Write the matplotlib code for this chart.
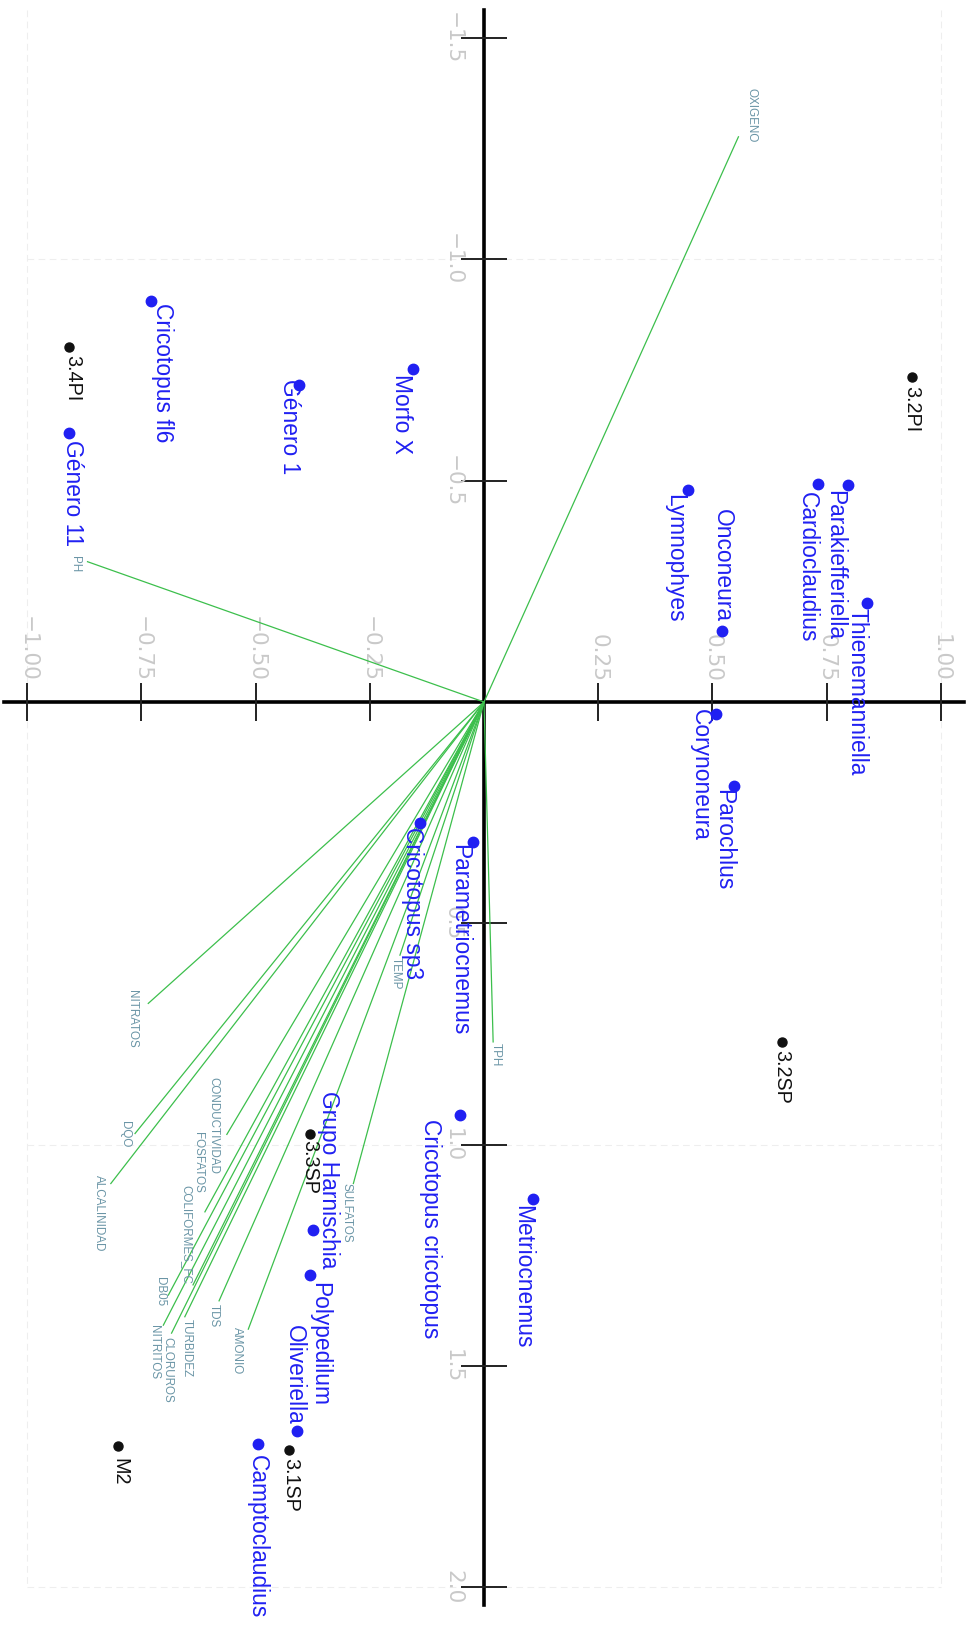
import matplotlib
matplotlib.use('Agg')
import matplotlib.pyplot as plt
from matplotlib import font_manager
from matplotlib.font_manager import FontProperties

# ─── Data: CCA scores (axis 1 runs down the page, axis 2 runs across) ───

species = ["Cricotopus fl6", "Género 11", "Género 1", "Morfo X",
           "Parakiefferiella", "Cardioclaudius", "Lymnophyes", "Onconeura",
           "Thienemanniella", "Corynoneura", "Parochlus", "Cricotopus sp3",
           "Parametriocnemus", "Cricotopus cricotopus", "Grupo Harnischia",
           "Polypedilum", "Oliveriella", "Camptoclaudius", "Metriocnemus"]
species_ax2 = [-0.728, -0.908, -0.405, -0.155, 0.796, 0.732, 0.447, 0.522,
               0.838, 0.508, 0.548, -0.140, -0.023, -0.053, -0.374, -0.381,
               -0.410, -0.494, 0.108]
species_ax1 = [-0.907, -0.607, -0.716, -0.752, -0.490, -0.492, -0.479, -0.160,
               -0.224, 0.026, 0.189, 0.274, 0.316, 0.933, 1.193, 1.295,
               1.646, 1.677, 1.123]

sites = ["3.4PI", "3.2PI", "3.3SP", "3.2SP", "3.1SP", "M2"]
sites_ax2 = [-0.908, 0.936, -0.381, 0.652, -0.428, -0.801]
sites_ax1 = [-0.801, -0.735, 0.975, 0.769, 1.689, 1.680]

env = ["OXIGENO", "PH", "TPH", "NITRATOS", "DQO", "ALCALINIDAD",
       "CONDUCTIVIDAD", "FOSFATOS", "COLIFORMES_FC", "DB05", "TURBIDEZ",
       "CLORUROS", "NITRITOS", "TDS", "AMONIO", "SULFATOS", "TEMP"]
env_ax2 = [0.557, -0.868, 0.020, -0.735, -0.764, -0.817, -0.563, -0.611,
           -0.637, -0.691, -0.655, -0.684, -0.702, -0.580, -0.516, -0.286,
           -0.184]
env_ax1 = [-1.277, -0.317, 0.768, 0.681, 0.975, 1.088, 0.977, 1.152,
           1.317, 1.340, 1.389, 1.426, 1.408, 1.353, 1.417, 1.088, 0.572]

ticks_ax2 = [-1.00, -0.75, -0.50, -0.25, 0.25, 0.50, 0.75, 1.00]
ticks_ax1 = [-1.5, -1.0, -0.5, 0.5, 1.0, 1.5, 2.0]

# ─── Label placement (pixel offsets from each mark, +y = down the page) ───
species_off = [(11, 72), (3, 60), (-10, 42), (-12, 45), (-13, 80), (-11, 83),
               (-14, 68), (0, -66), (-10, 89), (-16, 61), (-11, 54), (-8, 80),
               (-14, 98), (-29, 114), (15, -50), (10, 69), (-2, -56), (-1, 92),
               (-11, 78)]
sites_off = [(3, 31), (0, 32), (0, 33), (0, 35), (2, 35), (2, 26)]
env_off = [(13, -22), (-13, 2), (3, 13), (-16, 15), (-10, 1), (-12, 30),
           (-13, -9), (-7, -49), (-7, -50), (-8, -4), (2, 31), (-4, 37),
           (-9, 27), (-5, 15), (-11, 21), (-7, 29), (-4, 18)]


def pick_label_font():
    """Prefer a narrow face; otherwise Liberation Sans (Arial metrics)."""
    names = {f.name for f in font_manager.fontManager.ttflist}
    for fam in ['Liberation Sans Narrow', 'Liberation Sans', 'Roboto']:
        if fam in names:
            return FontProperties(family=fam)
    return FontProperties(family='DejaVu Sans')


BLUE = '#2020f2'
GREEN = '#3cbf4c'
TEAL = '#6a95a6'
TICKGREY = '#c9c9c9'

fig = plt.figure(figsize=(9.67, 16.26), dpi=100)
ax = fig.add_axes([0, 0, 1, 1])
ax.set_xlim(-1.0596, 1.0574)
ax.set_ylim(2.0877, -1.5861)
ax.axis('off')

renderer = fig.canvas.get_renderer()
base_fp = pick_label_font()


def fitted(sample, target_px):
    """Font properties sized so that `sample` is target_px wide."""
    fp = base_fp.copy()
    fp.set_size(20)
    t = fig.text(0, 0, sample, fontproperties=fp)
    w = t.get_window_extent(renderer).width
    t.remove()
    fp.set_size(20 * target_px / w)
    return fp


fp_species = fitted("Cricotopus cricotopus", 218)
fp_env = fitted("CONDUCTIVIDAD", 97)
fp_sites = fitted("3.2PI", 46)

# faint frame/grid lines
for g in [-1.0, 1.0]:
    ax.plot([g, g], [-1.5635, 2.0], color='#eeeeee', lw=0.8, ls=(0, (6, 4)), zorder=0)
for g in [-1.0, 1.0, 2.0]:
    ax.plot([-1.0, 1.0], [g, g], color='#eeeeee', lw=0.8, ls=(0, (6, 4)), zorder=0)

# main axes through origin
ax.plot([-1.0508, 1.0508], [0, 0], color='black', lw=2.6, zorder=2)
ax.plot([0, 0], [-1.5635, 2.040], color='black', lw=2.6, zorder=2)

for t in ticks_ax2:
    ax.plot([t], [0], marker='|', markersize=27, mew=1.4, color='#222222', zorder=2)
    ax.annotate(f'{t:.2f}'.replace('-', '\u2212'), xy=(t, 0), xytext=(0, 20),
                textcoords='offset pixels', rotation=270, ha='center', va='bottom',
                fontsize=15.5, color=TICKGREY, family='DejaVu Sans')
for t in ticks_ax1:
    ax.plot([0], [t], marker='_', markersize=33, mew=1.4, color='#222222', zorder=2)
    ax.annotate(f'{t:.1f}'.replace('-', '\u2212'), xy=(0, t), xytext=(-21, 0),
                textcoords='offset pixels', rotation=270, ha='right', va='center',
                fontsize=15.5, color=TICKGREY, family='DejaVu Sans')

# environmental vectors
for name, x, y, (dx, dy) in zip(env, env_ax2, env_ax1, env_off):
    ax.plot([0, x], [0, y], color=GREEN, lw=0.9, zorder=3)
    ax.annotate(name, xy=(x, y), xytext=(dx, -dy), textcoords='offset pixels',
                rotation=270, ha='center', va='center', fontproperties=fp_env,
                color=TEAL, zorder=4)

# species
ax.plot(species_ax2, species_ax1, 'o', color=BLUE, markersize=7.5, mec=BLUE, zorder=5)
for name, x, y, (dx, dy) in zip(species, species_ax2, species_ax1, species_off):
    ax.annotate(name, xy=(x, y), xytext=(dx, -dy), textcoords='offset pixels',
                rotation=270, ha='center', va='center', fontproperties=fp_species,
                color=BLUE, zorder=6)

# sites
ax.plot(sites_ax2, sites_ax1, 'o', color='#111111', markersize=6.5, zorder=5)
for name, x, y, (dx, dy) in zip(sites, sites_ax2, sites_ax1, sites_off):
    ax.annotate(name, xy=(x, y), xytext=(dx, -dy), textcoords='offset pixels',
                rotation=270, ha='center', va='center', fontproperties=fp_sites,
                color='#111111', zorder=6)

plt.savefig('out.png', dpi=100)
